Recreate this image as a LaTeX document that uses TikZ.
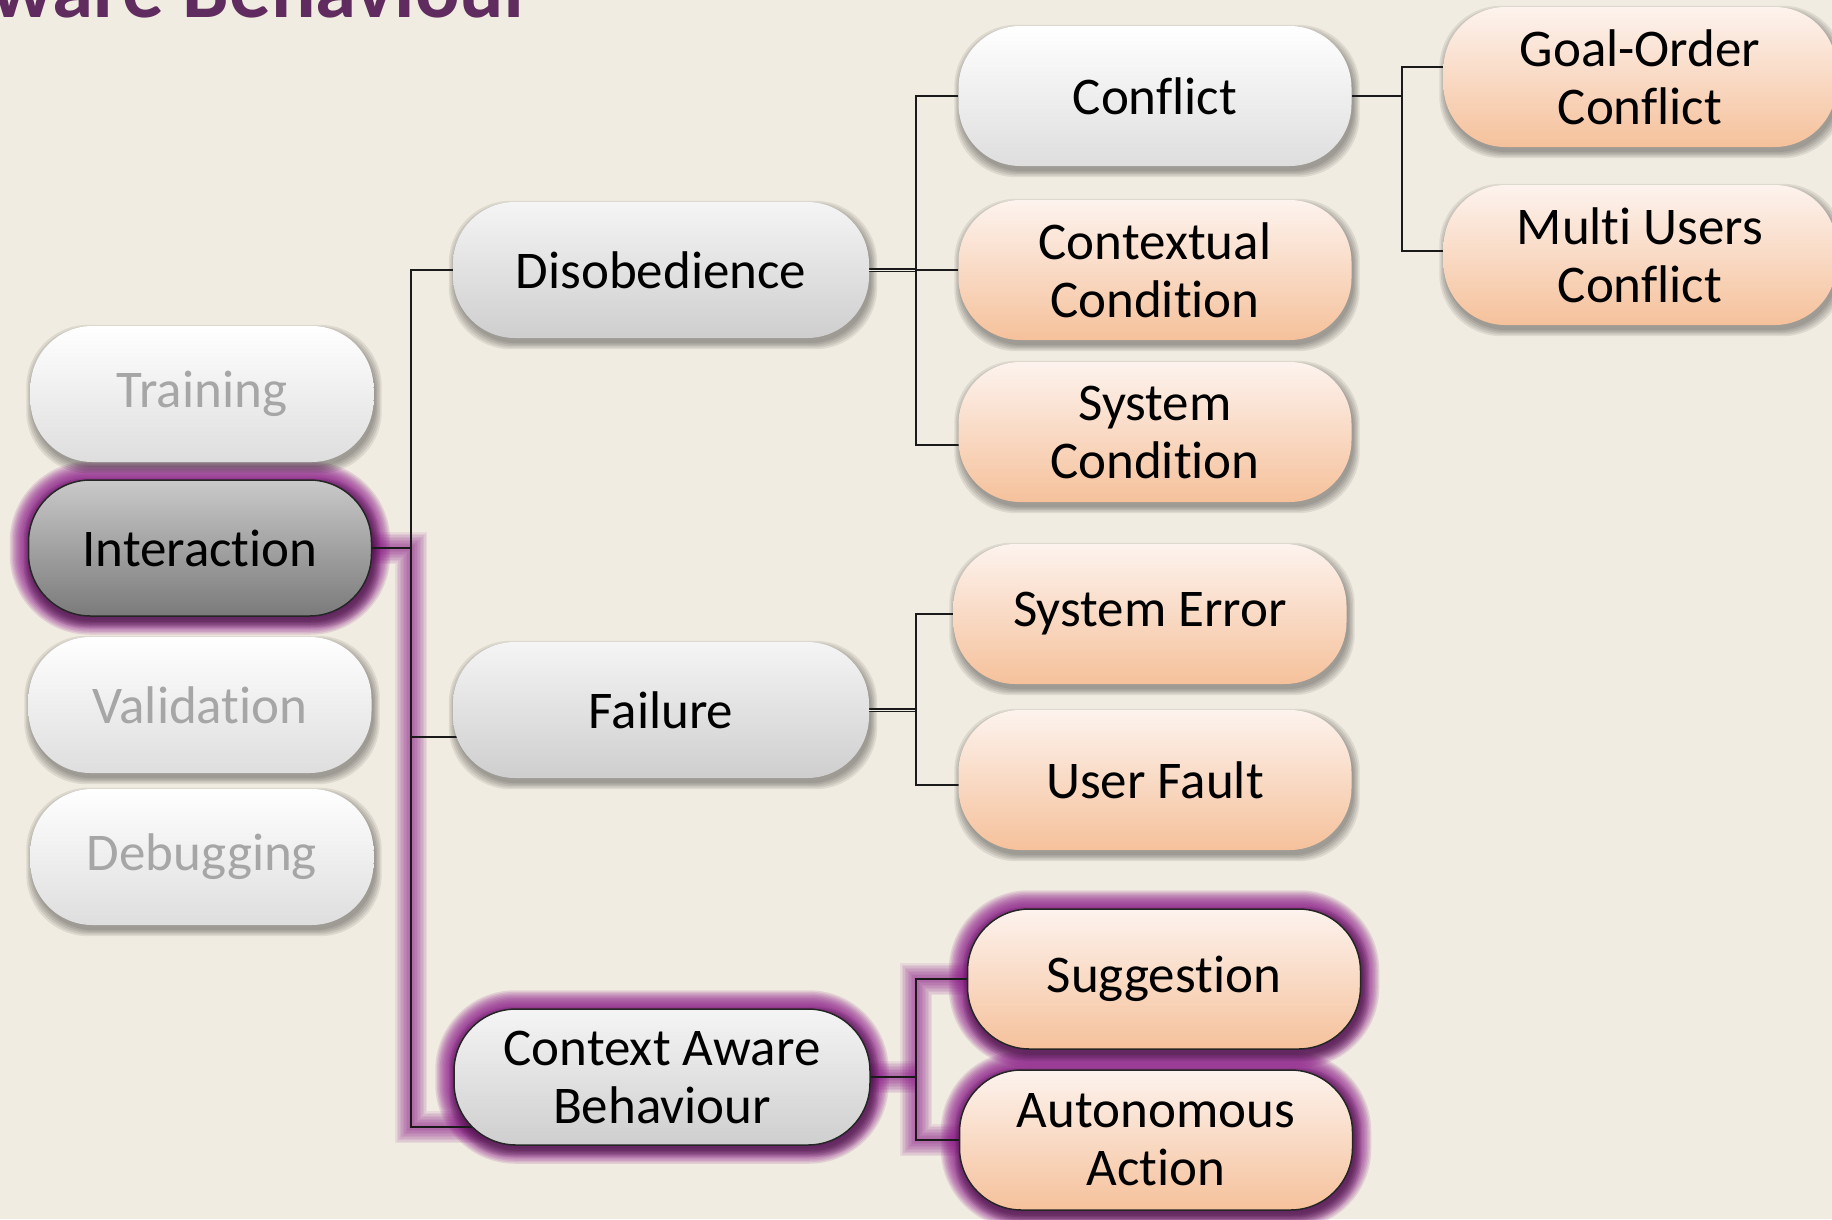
\documentclass[tikz,border=0pt]{standalone}
\usepackage{fontspec}
\setmainfont{Carlito}[Ligatures=CommonOff]
\definecolor{bg}{HTML}{F0ECE1}
\definecolor{titlepurple}{HTML}{602B5E}
\definecolor{greytext}{HTML}{A6A6A6}
\definecolor{peachtop}{HTML}{FDF3EE}
\definecolor{peachbot}{HTML}{F5C19B}
\definecolor{glowcol}{HTML}{8E1F8A}
\definecolor{linkcol}{HTML}{1A1A1A}
\pgfdeclarelayer{bglayer}
\pgfdeclarelayer{glowlayer}
\pgfdeclarelayer{shadowlayer}
\pgfdeclarelayer{linklayer}
\pgfsetlayers{bglayer,glowlayer,shadowlayer,linklayer,main}
\tikzset{
  pill/.style={rectangle, rounded corners=62pt, minimum height=136pt, inner sep=0pt,
    align=center, font=\fontsize{53}{58}\selectfont},
  whitepill/.style={pill, minimum width=343pt, top color=white, middle color=white, bottom color=black!13},
  greypill/.style={pill, minimum width=416pt, top color=black!4, bottom color=black!19},
  darkpill/.style={pill, minimum width=343pt, top color=black!21, bottom color=black!52,
    draw=black!85, line width=1.5pt},
  peachpill/.style={pill, minimum width=393pt, minimum height=140pt, top color=peachtop, bottom color=peachbot},
  lit/.style={draw=black!85, line width=1.5pt},
  link/.style={draw=linkcol, line width=2.5pt},
  twin/.style={link, double=bg, double distance=0.8pt, line width=2pt},
  glowring/.style={draw=glowcol, draw opacity=0.14, rounded corners=62pt},
  glowline/.style={draw=glowcol, draw opacity=0.09},
  shade/.style={fill=black, fill opacity=0.08, rounded corners=62pt},
  titletext/.style={font=\fontsize{83}{90}\selectfont\bfseries, text=titlepurple, anchor=base east, inner sep=0pt}
}
\begin{document}
\begin{tikzpicture}[x=1pt,y=-1pt]
\useasboundingbox (0,0) rectangle (1832,1219);
\begin{pgfonlayer}{bglayer}
  \fill[bg] (0,0) rectangle (1832,1219);
\end{pgfonlayer}

\node[titletext] (title) at (534,17) {ware Behaviour};

\node[whitepill, text=greytext] (train) at (202,394) {Training};
\node[darkpill] (inter) at (200,548) {Interaction};
\node[whitepill, text=greytext] (valid) at (200,705) {Validation};
\node[whitepill, text=greytext] (debug) at (202,857) {Debugging};

\node[greypill] (dis) at (661,270) {Disobedience};
\node[greypill] (fail) at (661,710) {Failure};
\node[greypill, lit] (cab) at (662,1077) {Context Aware\\Behaviour};

\node[whitepill, minimum width=393pt, minimum height=140pt] (conf) at (1155,96) {Conflict};
\node[peachpill] (ctx) at (1155,270) {Contextual\\Condition};
\node[peachpill] (syscond) at (1155,432) {System\\Condition};
\node[peachpill] (syserr) at (1150,614) {System Error};
\node[peachpill] (fault) at (1155,780) {User Fault};
\node[peachpill, lit] (sug) at (1164,979) {Suggestion};
\node[peachpill, lit] (auto) at (1156,1140) {Autonomous\\Action};

\node[peachpill] (goal) at (1640,77) {Goal-Order\\Conflict};
\node[peachpill] (multi) at (1640,255) {Multi Users\\Conflict};

\coordinate (tr) at (411,548);
\coordinate (jd) at (916,270);
\coordinate (jc) at (1402,96);
\coordinate (jf) at (916,710);
\coordinate (jb) at (916,1077);

\begin{pgfonlayer}{shadowlayer}
  \foreach \n in {train,inter,valid,debug,dis,fail,cab,conf,ctx,syscond,syserr,fault,sug,auto,goal,multi}
    \foreach \s in {0,1.5,3,4.5,6}
      \fill[shade] ([xshift=2pt-\s pt, yshift=-5pt-\s pt]\n.south west)
        rectangle ([xshift=2pt+\s pt, yshift=-5pt+\s pt]\n.north east);
\end{pgfonlayer}

\begin{pgfonlayer}{glowlayer}
  \foreach \w in {36,33,...,3}
    \foreach \n in {inter,cab,sug,auto}
      \draw[glowring, line width=\w pt] (\n.south west) rectangle (\n.north east);
  \foreach \w in {32,29,...,5}{
    \draw[glowline, line width=\w pt] (inter) -| (tr) |- ([yshift=-50pt]cab.center);
    \draw[glowline, line width=\w pt] (cab) -- (jb);
    \draw[glowline, line width=\w pt] (sug) -| (jb) |- (auto);
  }
\end{pgfonlayer}

\begin{pgfonlayer}{linklayer}
  \draw[link] (dis) -| (tr) -- (inter);
  \draw[link] ([yshift=-27pt]fail.center) -| (tr);
  \draw[link] ([yshift=-50pt]cab.center) -| (tr);
  \draw[twin] (dis) -- (jd);
  \draw[link] (conf) -| (jd) |- ([yshift=-13pt]syscond.center);
  \draw[link] (ctx) -- (jd);
  \draw[link] (conf) -- (jc);
  \draw[link] ([yshift=10pt]goal.center) -| (jc) |- ([yshift=4pt]multi.center);
  \draw[twin] (fail) -- (jf);
  \draw[link] (syserr) -| (jf) |- ([yshift=-5pt]fault.center);
  \draw[link] (cab) -- (jb);
  \draw[link] (sug) -| (jb) |- (auto);
\end{pgfonlayer}
\end{tikzpicture}
\end{document}
